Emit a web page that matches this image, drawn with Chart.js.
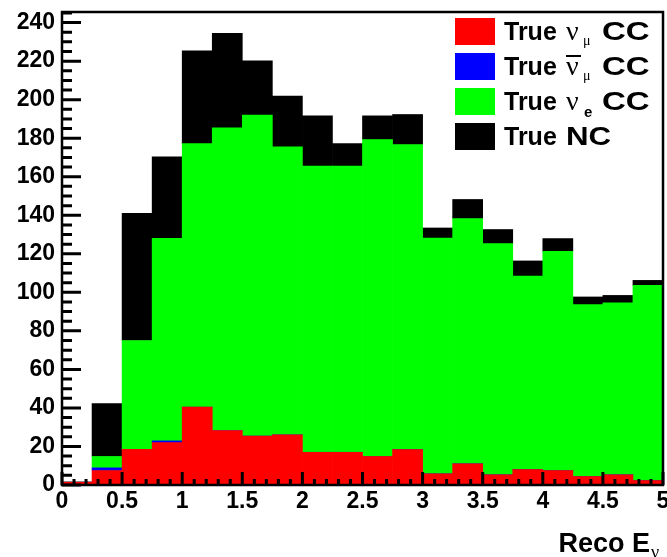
<!DOCTYPE html>
<html>
<head>
<meta charset="utf-8">
<script src="https://cdn.jsdelivr.net/npm/chart.js@4"></script>
<style>
    body { margin: 0; background: #fff; }
</style>
</head>
<body>
<canvas id="myChart" width="667" height="557"></canvas>
<script>
// подключение канваса
const canvas = document.getElementById('myChart')
const ctx = canvas.getContext('2d')

// центры бинов по 0.25 ГэВ
const binCentres = [0.125, 0.375, 0.625, 0.875, 1.125, 1.375, 1.625, 1.875, 2.125, 2.375,
                    2.625, 2.875, 3.125, 3.375, 3.625, 3.875, 4.125, 4.375, 4.625, 4.875]

// события по каналам (снизу вверх в стопке)
const numuCC    = [1.5, 7.5, 18.5, 22, 40.4, 28.3, 25.4, 26, 17, 17, 14.8, 18.4, 5.8, 11, 5.3, 8, 7.5, 4.4, 5.3, 2.3]
const numubarCC = [0, 1.4, 0, 0.9, 0, 0, 0, 0, 0, 0, 0, 0, 0, 0, 0, 0, 0, 0, 0, 0]
const nueCC     = [0, 5.9, 56.5, 105.1, 136.8, 157.1, 166.6, 149.5, 148.5, 148.5, 164.5, 158.3, 122.4, 127.3, 120, 100.5, 113.8, 89.2, 89.3, 101.3]
const trueNC    = [0, 27.4, 66, 42.3, 48.2, 49, 28.2, 26.3, 26.1, 11.7, 12.3, 15.6, 5.2, 9.9, 7.3, 7.8, 6.6, 4, 3.8, 2.6]

// подписи легенды: частица, индекс, черта сверху
const legendNames = ['True \u03bd\u03bc CC', 'True anti-\u03bd\u03bc CC', 'True \u03bde CC', 'True NC']
const legendSym   = ['\u03bd', '\u03bd', '\u03bd', '']
const legendSub   = ['\u03bc', '\u03bc', 'e', '']
const legendBar   = [false, true, false, false]
const legendTail  = ['CC', 'CC', 'CC', 'NC']

const colors = ['#ff0000', '#0000ff', '#00ff00', '#000000']
const series = [numuCC, numubarCC, nueCC, trueNC]

const sans = '"Liberation Sans", Arial, Helvetica, sans-serif'
const serif = '"Liberation Serif", "DejaVu Serif", serif'

// рамка и засечки в стиле ROOT (внутрь области графика)
function drawFrame(chart) {
    const c = chart.ctx
    const a = chart.chartArea
    const xs = chart.scales.x
    const ys = chart.scales.y
    c.save()
    c.strokeStyle = '#000'
    c.lineWidth = 3
    c.beginPath()
    for (let v = 0; v <= 245; v += 5) {
        const py = ys.getPixelForValue(v)
        const len = v % 20 === 0 ? 19 : 10
        c.moveTo(a.left, py)
        c.lineTo(a.left + len, py)
    }
    for (let i = 0; i <= 50; i++) {
        const px = xs.getPixelForValue(i / 10)
        const len = i % 5 === 0 ? 13 : 6
        c.moveTo(px, a.bottom)
        c.lineTo(px, a.bottom - len)
    }
    c.stroke()
    c.lineWidth = 2.5
    c.strokeRect(a.left, a.top, a.right - a.left, a.bottom - a.top)
    c.restore()
}

// текст, растянутый по горизонтали
function wideText(c, str, x, y, k) {
    c.save()
    c.translate(x, y)
    c.scale(k, 1)
    c.fillText(str, 0, 0)
    c.restore()
}

// легенда и подпись оси с греческими буквами и индексами
function drawTexts(chart) {
    const c = chart.ctx
    c.save()
    c.textBaseline = 'alphabetic'
    c.textAlign = 'left'
    chart.data.datasets.forEach((ds, i) => {
        const top = 18 + i * 35
        const base = 40 + i * 35
        c.fillStyle = ds.backgroundColor
        c.fillRect(455, top, 40, 27)
        c.fillStyle = '#000'
        c.font = 'bold 25px ' + sans
        c.fillText('True', 504, base)
        if (!legendSym[i]) {
            wideText(c, legendTail[i], 566, base, 1.25)
            return
        }
        c.font = '28px ' + serif
        c.fillText(legendSym[i], 566, base)
        if (legendBar[i]) {
            c.fillRect(566, base - 20, 15, 2)
        }
        if (legendSub[i] === 'e') {
            c.font = 'bold 15px ' + sans
            c.fillText('e', 584, base + 7)
        } else {
            c.font = '14px ' + serif
            c.fillText(legendSub[i], 583, base + 5)
        }
        c.font = 'bold 25px ' + sans
        wideText(c, legendTail[i], 602, base, 1.32)
    })
    c.font = 'bold 27px ' + sans
    c.textAlign = 'right'
    c.fillText('Reco E', 650, 552)
    c.font = '18px ' + serif
    c.textAlign = 'left'
    c.fillText('\u03bd', 651, 558)
    c.restore()
}

const overlay = {
    id: 'overlay',
    afterDraw(chart) {
        drawFrame(chart)
        drawTexts(chart)
    }
}

const data = {
    datasets: series.map((vals, i) => ({
        label: legendNames[i],
        backgroundColor: colors[i],
        borderWidth: 0,
        barPercentage: 1,
        categoryPercentage: 1,
        data: vals.map((v, k) => ({ x: binCentres[k], y: v }))
    }))
}

const tickFont = { family: sans, size: 23, weight: 'bold' }

const myChart = new Chart(ctx, {
    type: 'bar',
    data: data,
    plugins: [overlay],
    options: {
        responsive: false,
        animation: false,
        layout: { padding: { top: 12, right: 4, left: 0, bottom: 0 } },
        plugins: { legend: { display: false }, tooltip: { enabled: false } },
        scales: {
            x: {
                type: 'linear',
                stacked: true,
                min: 0,
                max: 5,
                offset: false,
                grid: { display: false, drawTicks: false },
                border: { display: false },
                ticks: {
                    stepSize: 0.5, padding: 3, color: '#000', font: tickFont,
                    maxRotation: 0, autoSkip: false,
                    callback: v => String(v)
                },
                afterFit(s) { s.height = 72; s.paddingLeft = 0; s.paddingRight = 0 }
            },
            y: {
                stacked: true,
                min: 0,
                max: 245.5,
                grid: { display: false, drawTicks: false },
                border: { display: false },
                ticks: { stepSize: 20, includeBounds: false, padding: 7, color: '#000', font: tickFont },
                afterFit(s) { s.width = 62; s.paddingTop = 0; s.paddingBottom = 0 }
            }
        }
    }
})
</script>
</body>
</html>
